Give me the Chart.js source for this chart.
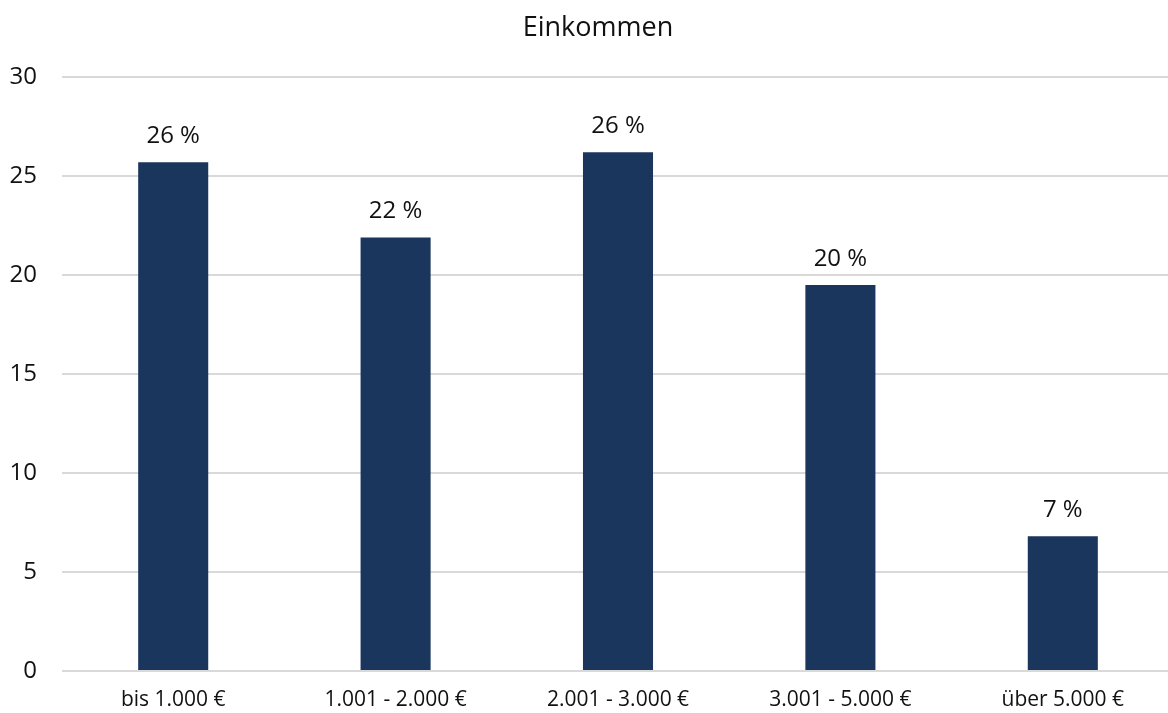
<!DOCTYPE html>
<html>
<head>
<meta charset="utf-8">
<script src="https://cdn.jsdelivr.net/npm/chart.js@4"></script>
<style>
  html, body { margin: 0; padding: 0; background: #fff; overflow: hidden; }
  #wrap { width: 1174px; height: 713px; position: relative; }
</style>
</head>
<body>
<div id="wrap"><canvas id="c"></canvas></div>
<script>
const title = 'Einkommen';
const categories = ['bis 1.000 €', '1.001 - 2.000 €', '2.001 - 3.000 €', '3.001 - 5.000 €', 'über 5.000 €'];
const shares = [25.7, 21.9, 26.2, 19.5, 6.8];
const yTicks = [0, 5, 10, 15, 20, 25, 30];

const FONT = "'Open Sans', 'Noto Sans', sans-serif";
const TEXT = '#111';

// value labels above bars and the chart heading
const overlay = {
  id: 'overlay',
  afterDatasetsDraw(chart) {
    const ctx = chart.ctx;
    ctx.save();
    ctx.fillStyle = TEXT;
    ctx.textAlign = 'center';
    ctx.textBaseline = 'alphabetic';
    ctx.font = '24px ' + FONT;
    const meta = chart.getDatasetMeta(0);
    meta.data.forEach((bar, i) => {
      ctx.fillText(Math.round(shares[i]) + ' %', bar.x, bar.y - 19);
    });
    ctx.font = '27px ' + FONT;
    ctx.fillText(title, 598, 36);
    ctx.restore();
  }
};

new Chart(document.getElementById('c'), {
  type: 'bar',
  data: {
    labels: categories,
    datasets: [{
      data: shares,
      backgroundColor: '#1b365d',
      barPercentage: 0.315,
      categoryPercentage: 1
    }]
  },
  options: {
    responsive: true,
    maintainAspectRatio: false,
    animation: false,
    layout: { padding: { top: 77, left: 0, right: 0, bottom: 0 } },
    plugins: { legend: { display: false }, tooltip: { enabled: false }, title: { display: false } },
    scales: {
      x: {
        grid: { display: false },
        border: { display: false },
        ticks: { color: TEXT, font: { family: FONT, size: 21 }, padding: 8, maxRotation: 0 },
        afterFit(s) { s.height = 42; }
      },
      y: {
        min: 0, max: 30,
        afterBuildTicks(s) { s.ticks = yTicks.map(v => ({ value: v })); },
        grid: { color: '#d9d9d9', lineWidth: 2, drawTicks: false },
        border: { display: false },
        ticks: { color: TEXT, font: { family: FONT, size: 24 }, padding: 25 },
        afterFit(s) { s.width = 62; }
      }
    }
  },
  plugins: [overlay]
});
</script>
</body>
</html>
